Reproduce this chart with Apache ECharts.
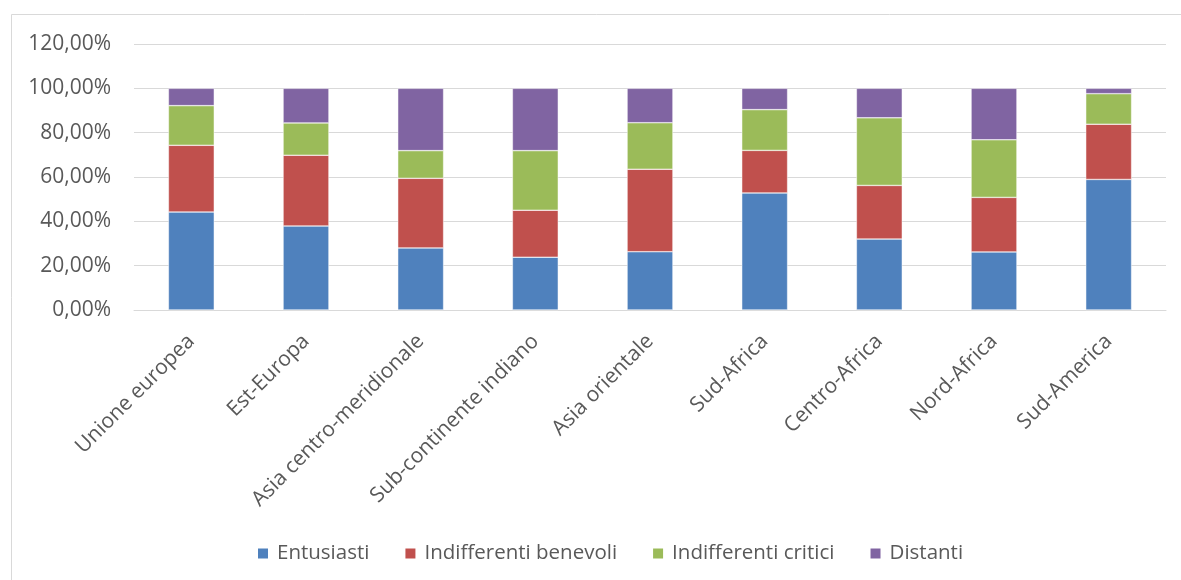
<!DOCTYPE html>
<html>
<head>
<meta charset="utf-8">
<script src="https://cdn.jsdelivr.net/npm/echarts@6/dist/echarts.min.js"></script>
<style>
  html, body { margin: 0; padding: 0; background: #fff; }
  #chart { width: 1181px; height: 580px; }
</style>
</head>
<body>
<div id="chart"></div>
<script>
// Regions on the x axis
const categories = [
  'Unione europea', 'Est-Europa', 'Asia centro-meridionale',
  'Sub-continente indiano', 'Asia orientale', 'Sud-Africa',
  'Centro-Africa', 'Nord-Africa', 'Sud-America'
];

// Share of each attitude group per region (percent)
const entusiasti            = [44.2, 37.9, 28.0, 23.8, 26.3, 52.8, 32.0, 26.2, 58.9];
const indifferentiBenevoli  = [30.1, 31.9, 31.4, 21.2, 37.2, 19.2, 24.2, 24.6, 24.9];
const indifferentiCritici   = [17.9, 14.6, 12.5, 26.9, 21.0, 18.4, 30.5, 26.0, 13.8];
const distanti              = [ 7.8, 15.6, 28.1, 28.1, 15.5,  9.6, 13.3, 23.2,  2.4];

const seriesNames = ['Entusiasti', 'Indifferenti benevoli', 'Indifferenti critici', 'Distanti'];
const seriesData = [entusiasti, indifferentiBenevoli, indifferentiCritici, distanti];
const colors = ['#4f81bd', '#c0504d', '#9bbb59', '#8064a2'];

const fontFamily = '"Open Sans", "Liberation Sans", sans-serif';
const textColor = '#595959';

const chart = echarts.init(document.getElementById('chart'), null, { renderer: 'canvas' });

chart.setOption({
  animation: false,
  backgroundColor: '#ffffff',
  graphic: [{
    type: 'rect',
    shape: { x: 11.5, y: 14.5, width: 1200, height: 600 },
    style: { fill: 'none', stroke: '#d9d9d9', lineWidth: 1 },
    silent: true
  }],
  grid: { left: 134, right: 15, top: 44, bottom: 270, containLabel: false },
  legend: {
    data: seriesNames,
    top: 538,
    left: 251,
    itemWidth: 12,
    itemHeight: 12,
    itemGap: 34,
    icon: 'rect',
    textStyle: { color: textColor, fontSize: 20.5, fontFamily: fontFamily, padding: [0, 0, 0, 3] }
  },
  xAxis: {
    type: 'category',
    data: categories,
    axisLine: { lineStyle: { color: '#d9d9d9', width: 1 } },
    axisTick: { show: false },
    axisLabel: {
      rotate: 45,
      interval: 0,
      margin: 28,
      padding: [11, 0, 0, 0],
      color: textColor,
      fontSize: 21,
      fontFamily: fontFamily
    }
  },
  yAxis: {
    type: 'value',
    min: 0,
    max: 120,
    interval: 20,
    axisLine: { show: false },
    axisTick: { show: false },
    splitLine: { lineStyle: { color: '#d9d9d9', width: 1 } },
    axisLabel: {
      margin: 23,
      color: textColor,
      fontSize: 21,
      fontFamily: fontFamily,
      formatter: v => v.toFixed(2).replace('.', ',') + '%'
    }
  },
  series: seriesNames.map((name, i) => ({
    name: name,
    type: 'bar',
    stack: 'totale',
    barWidth: '40%',
    data: seriesData[i],
    itemStyle: { color: colors[i], borderColor: '#ffffff', borderWidth: 0.5 }
  }))
});
</script>
</body>
</html>
